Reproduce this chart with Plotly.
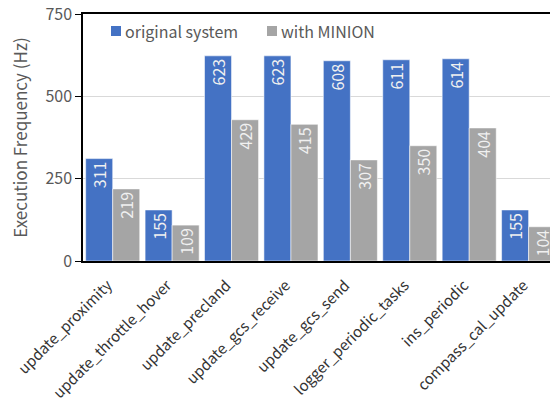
import plotly.graph_objects as go

tasks = ["update_proximity", "update_throttle_hover", "update_precland",
         "update_gcs_receive", "update_gcs_send", "logger_periodic_tasks",
         "ins_periodic", "compass_cal_update"]
original_hz = [311, 155, 623, 623, 608, 611, 614, 155]
minion_hz = [219, 109, 429, 415, 307, 350, 404, 104]
series_names = ["original system", "with MINION"]

FONT = "Noto Sans CJK SC"
BLUE = "#4472C4"
GRAY = "#A5A5A5"
colors = [BLUE, GRAY]

fig = go.Figure()
for name, vals, color in zip(series_names, [original_hz, minion_hz], colors):
    fig.add_trace(go.Bar(
        name=name, x=tasks, y=vals, marker_color=color,
        marker_line=dict(color="rgba(255,255,255,0.55)", width=1),
        text=[str(v) for v in vals], textposition="inside",
        insidetextanchor="end", textangle=-90,
        textfont=dict(family=FONT, size=16, color="#f0f0f0"),
        constraintext="none", showlegend=False,
    ))

# legend drawn as swatches + labels inside the plot area
legend_x = [111, 267]
for name, color, px in zip(series_names, colors, legend_x):
    fig.add_shape(type="rect", xref="paper", yref="paper",
                  x0=(px - 83) / 467, x1=(px + 10 - 83) / 467,
                  y0=(261 - 36) / 247, y1=(261 - 26) / 247,
                  fillcolor=color, line_width=0)
    fig.add_annotation(text=name, xref="paper", yref="paper",
                       x=(px + 12 - 83) / 467, y=(261 - 31) / 247,
                       xanchor="left", yanchor="middle", showarrow=False,
                       font=dict(family=FONT, size=16, color="#595959"))

fig.update_layout(
    width=550, height=404,
    margin=dict(l=83, r=0, t=14, b=143),
    paper_bgcolor="white", plot_bgcolor="white",
    barmode="group", bargap=0.09, bargroupgap=0,
    font=dict(family=FONT, size=16, color="#595959"),
    showlegend=False,
)
fig.update_xaxes(
    range=[-0.5, 7.36], tickangle=-45, showline=True, mirror=True,
    linecolor="black", linewidth=1.5, ticks="",
    ticklabelshift=-5, ticklabelstandoff=8, automargin=False,
    tickfont=dict(family=FONT, size=15, color="#333333"),
)
fig.update_yaxes(
    range=[0, 750], tickvals=[0, 250, 500, 750], showgrid=True,
    gridcolor="#d9d9d9", gridwidth=1, showline=True, linecolor="black",
    linewidth=1.5, ticks="outside", ticklen=6, tickcolor="black",
    zeroline=False, automargin=False,
    title=dict(text="Execution Frequency (Hz)", font=dict(size=17, color="#595959"),
               standoff=13),
    tickfont=dict(family=FONT, size=16, color="#595959"),
)

fig.write_html("out.html")
